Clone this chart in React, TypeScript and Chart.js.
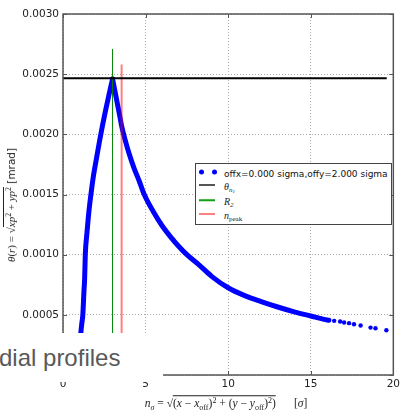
import React, { useEffect, useRef } from "react";
import { Chart, registerables } from "chart.js";
Chart.register(...registerables);

// ---- data ----
// rising branch (up to the peak) and falling branch (from the peak)
const riseR = [0.95, 1.02, 1.08, 1.14, 1.2, 1.27, 1.31, 1.35, 1.45, 1.57, 1.69, 1.85, 2.0, 2.22, 2.4, 2.58, 2.8, 3.0];
const riseTheta = [0.00005, 0.00022, 0.00035, 0.00043, 0.0005, 0.0007, 0.0008, 0.001, 0.00118, 0.00136, 0.0015, 0.00166, 0.00178, 0.00195, 0.00208, 0.0022, 0.00234, 0.00246];
const fallR = [3.0, 3.2, 3.4, 3.55, 3.75, 4.0, 4.3, 4.62, 4.92, 5.5, 6.0, 6.5, 7.0, 7.5, 8.2, 9.0, 10.0, 11.0, 12.0, 13.0, 14.0, 15.0, 15.8, 16.1];
const fallTheta = [0.00246, 0.00232, 0.00218, 0.00207, 0.00196, 0.00184, 0.00172, 0.00161, 0.0015, 0.00135, 0.00124, 0.00115, 0.00107, 0.001, 0.00092, 0.00082, 0.000725, 0.00066, 0.00061, 0.000565, 0.000525, 0.00049, 0.000462, 0.000455];
const tailR = [16.42, 16.78, 17.02, 17.32, 17.62, 18.02, 18.62, 18.92, 19.58];
const tailTheta = [0.00045, 0.000444, 0.000436, 0.000431, 0.000422, 0.000411, 0.000394, 0.000389, 0.000372];
const thetaN1 = 0.002467;
const thetaN1Span = [0, 19.6];
const r2 = 3.0;
const r2Top = 0.00271;
const nPeak = 3.55;
const nPeakTop = 0.00258;
const xTickValues = [0, 5, 10, 15, 20];
const yTickValues = [0, 0.0005, 0.001, 0.0015, 0.002, 0.0025, 0.003];
const seriesLabel = "offx=0.000 sigma,offy=2.000 sigma";
const overlayText = "dial profiles";

const FRAME = "#555";

const framePlugin = {
  id: "frame",
  afterDraw(chart: any) {
    const { ctx, chartArea: a, scales } = chart;
    ctx.save();
    ctx.strokeStyle = FRAME;
    ctx.lineWidth = 1;
    ctx.beginPath();
    for (const v of xTickValues) {
      const px = Math.round(scales.x.getPixelForValue(v)) + 0.5;
      ctx.moveTo(px, a.bottom);
      ctx.lineTo(px, a.bottom - 4);
      ctx.moveTo(px, a.top);
      ctx.lineTo(px, a.top + 4);
    }
    for (const v of yTickValues) {
      const py = Math.round(scales.y.getPixelForValue(v)) + 0.5;
      ctx.moveTo(a.left, py);
      ctx.lineTo(a.left + 4, py);
      ctx.moveTo(a.right, py);
      ctx.lineTo(a.right - 4, py);
    }
    ctx.stroke();
    ctx.lineWidth = 1.5;
    ctx.strokeRect(a.left, a.top, a.right - a.left, a.bottom - a.top);
    ctx.restore();
  },
};

const serif = "'Liberation Serif', 'DejaVu Serif', serif";
const sans = "'DejaVu Sans', sans-serif";

const Sub = ({ children }: any) => (
  <span style={{ fontSize: "0.7em", verticalAlign: "-0.3em", lineHeight: 0 }}>{children}</span>
);
const Sup = ({ children }: any) => (
  <span style={{ fontSize: "0.7em", verticalAlign: "0.5em", lineHeight: 0 }}>{children}</span>
);
const Over = ({ children }: any) => (
  <span style={{ borderTop: "1px solid #222", paddingTop: 1 }}>{children}</span>
);

export default function App() {
  const canvasRef = useRef<HTMLCanvasElement>(null);

  useEffect(() => {
    const tickFont = { family: "DejaVu Sans", size: 10.5 };
    const curveStyle = {
      borderColor: "#0000ff",
      borderWidth: 5,
      borderJoinStyle: "round",
      borderCapStyle: "round",
      pointRadius: 0,
      cubicInterpolationMode: "monotone",
    };
    const chart = new Chart(canvasRef.current as HTMLCanvasElement, {
      type: "line",
      data: {
        datasets: [
          {
            label: "theta_n1",
            data: thetaN1Span.map((x) => ({ x, y: thetaN1 })),
            borderColor: "#000",
            borderWidth: 2,
            pointRadius: 0,
          },
          {
            label: "R_2",
            data: [
              { x: r2, y: 0 },
              { x: r2, y: r2Top },
            ],
            borderColor: "#008000",
            borderWidth: 1,
            pointRadius: 0,
          },
          {
            label: "n_peak",
            data: [
              { x: nPeak, y: 0 },
              { x: nPeak, y: nPeakTop },
            ],
            borderColor: "rgba(255,0,0,0.5)",
            borderWidth: 2,
            pointRadius: 0,
          },
          {
            label: seriesLabel + " rise",
            data: riseR.map((x, i) => ({ x, y: riseTheta[i] })),
            ...curveStyle,
          },
          {
            label: seriesLabel,
            data: fallR.map((x, i) => ({ x, y: fallTheta[i] })),
            ...curveStyle,
          },
          {
            label: seriesLabel + " tail",
            data: tailR.map((x, i) => ({ x, y: tailTheta[i] })),
            showLine: false,
            pointRadius: 2.2,
            pointBorderWidth: 0,
            pointBackgroundColor: "#0000ff",
            borderColor: "#0000ff",
          },
        ],
      },
      options: {
        responsive: false,
        devicePixelRatio: 1,
        animation: false,
        layout: { padding: { top: 14, right: 6, left: 0, bottom: 0 } },
        plugins: { legend: { display: false }, tooltip: { enabled: false } },
        scales: {
          x: {
            type: "linear",
            min: 0,
            max: 20,
            afterBuildTicks: (s: any) => {
              s.ticks = xTickValues.map((value) => ({ value }));
            },
            afterFit: (s: any) => {
              s.height = 40;
            },
            ticks: {
              font: tickFont,
              color: "#222",
              padding: 3,
              maxRotation: 0,
              autoSkip: false,
              callback: (v: any) => String(v),
            },
            grid: { color: "#aaa", lineWidth: 1, drawTicks: false },
            border: { display: false, dash: [1, 2] },
          },
          y: {
            type: "linear",
            min: 0,
            max: 0.003,
            afterBuildTicks: (s: any) => {
              s.ticks = yTickValues.map((value) => ({ value }));
            },
            afterFit: (s: any) => {
              s.width = 63;
            },
            ticks: {
              font: tickFont,
              color: "#222",
              padding: 4,
              autoSkip: false,
              callback: (v: any) => Number(v).toFixed(4),
            },
            grid: { color: "#aaa", lineWidth: 1, drawTicks: false },
            border: { display: false, dash: [1, 2] },
          },
        },
      },
      plugins: [framePlugin],
    } as any);
    return () => chart.destroy();
  }, []);

  const legendRow = (y: number, marker: any, label: any) => (
    <>
      <div style={{ position: "absolute", left: 199, top: y, transform: "translateY(-50%)" }}>{marker}</div>
      <div
        style={{
          position: "absolute",
          left: 224,
          top: y,
          transform: "translateY(-50%)",
          whiteSpace: "nowrap",
          lineHeight: 1,
        }}
      >
        {label}
      </div>
    </>
  );
  const lineMarker = (color: string, w: number) => (
    <div style={{ width: 16, height: w, background: color }} />
  );

  return (
    <div
      style={{
        position: "fixed",
        left: 0,
        top: 0,
        width: 403,
        height: 415,
        background: "#fff",
        overflow: "hidden",
      }}
    >
      <canvas
        ref={canvasRef}
        width={403}
        height={415}
        style={{ position: "absolute", left: 0, top: 0, width: 403, height: 415 }}
      />

      {/* legend */}
      <div
        style={{
          position: "absolute",
          left: 195,
          top: 163,
          width: 197,
          height: 62,
          boxSizing: "border-box",
          border: "1.5px solid #444",
          background: "#fff",
        }}
      />
      {legendRow(
        172,
        <div style={{ position: "relative", width: 18, height: 5 }}>
          <div style={{ position: "absolute", left: 0, top: 0, width: 5, height: 5, borderRadius: 3, background: "#00f" }} />
          <div style={{ position: "absolute", left: 13, top: 0, width: 5, height: 5, borderRadius: 3, background: "#00f" }} />
        </div>,
        <span style={{ fontFamily: sans, fontSize: 9, color: "#111" }}>{seriesLabel}</span>
      )}
      {legendRow(
        185,
        lineMarker("#555", 2),
        <span style={{ fontFamily: serif, fontSize: 10, fontStyle: "italic", color: "#222" }}>
          θ<Sub>n<Sub>1</Sub></Sub>
        </span>
      )}
      {legendRow(
        200,
        lineMarker("#10a010", 1.5),
        <span style={{ fontFamily: serif, fontSize: 10, fontStyle: "italic", color: "#222" }}>
          R<Sub>2</Sub>
        </span>
      )}
      {legendRow(
        214,
        lineMarker("#ff8080", 2),
        <span style={{ fontFamily: serif, fontSize: 10, color: "#222" }}>
          <i>n</i>
          <Sub>peak</Sub>
        </span>
      )}

      {/* y axis title */}
      <div
        style={{
          position: "absolute",
          left: 10,
          top: 205,
          transform: "translate(-50%, -50%) rotate(-90deg)",
          whiteSpace: "nowrap",
          color: "#222",
          lineHeight: 1,
        }}
      >
        <span style={{ fontFamily: serif, fontSize: 11 }}>
          <i>θ</i>(<i>r</i>) = √<Over>
            <i>xp</i>
            <Sup>2</Sup> + <i>yp</i>
            <Sup>2</Sup>
          </Over>
        </span>
        <span style={{ fontFamily: sans, fontSize: 10.5 }}> [mrad]</span>
      </div>

      {/* x axis title */}
      <div
        style={{
          position: "absolute",
          left: 226,
          top: 404,
          transform: "translate(-50%, -50%)",
          whiteSpace: "nowrap",
          color: "#222",
          lineHeight: 1,
          fontFamily: serif,
          fontSize: 11.5,
        }}
      >
        <i>n</i>
        <Sub>
          <i>σ</i>
        </Sub>{" "}
        = √<Over>
          (<i>x</i> − <i>x</i>
          <Sub>off</Sub>)<Sup>2</Sup> + (<i>y</i> − <i>y</i>
          <Sub>off</Sub>)<Sup>2</Sup>)
        </Over>
        <span style={{ display: "inline-block", width: 18 }} />[<i>σ</i>]
      </div>

      {/* slide overlay */}
      <div
        style={{
          position: "absolute",
          left: 0,
          top: 333,
          width: 163,
          height: 49,
          background: "#fff",
        }}
      >
        <div
          style={{
            position: "absolute",
            left: -1,
            top: 11,
            fontFamily: "'Liberation Sans', Arial, sans-serif",
            fontSize: 24,
            color: "#595959",
            whiteSpace: "nowrap",
            lineHeight: "normal",
          }}
        >
          {overlayText}
        </div>
      </div>
    </div>
  );
}
